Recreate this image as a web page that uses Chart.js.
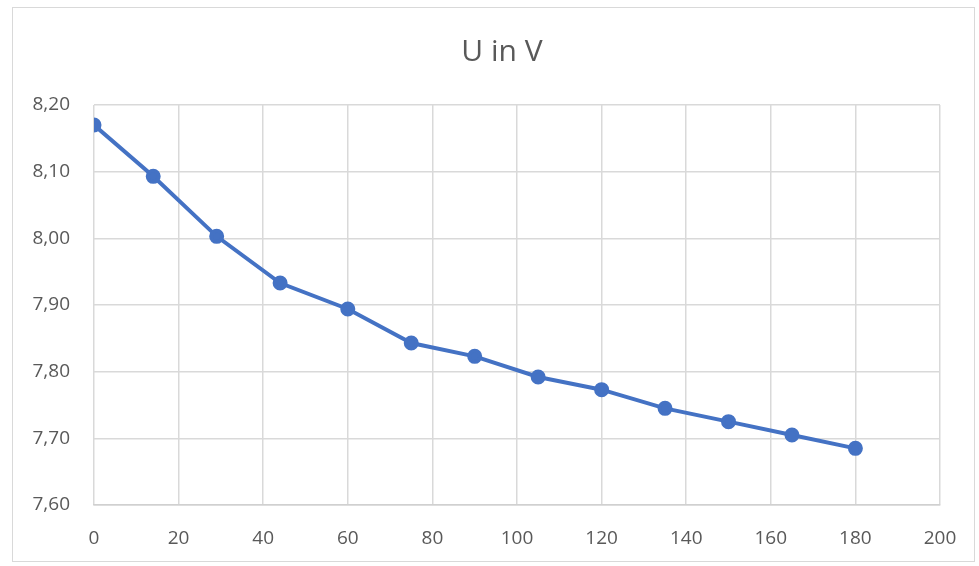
<!DOCTYPE html>
<html>
<head>
<meta charset="utf-8">
<script src="https://cdn.jsdelivr.net/npm/chart.js@4/dist/chart.umd.min.js"></script>
<style>
    html, body { margin: 0; padding: 0; background: #fff; }
    #wrap { position: relative; width: 979px; height: 566px; }
    #frame { position: absolute; left: 12px; top: 7px; width: 963px; height: 555px; border: 1px solid #d9d9d9; box-sizing: border-box; pointer-events: none; }
</style>
</head>
<body>
<div id="wrap">
    <canvas id="spannungChart" width="979" height="566"></canvas>
    <div id="frame"></div>
</div>
<script>
// Zeit (x) und Spannung U in V (y)
const zeit = [0, 14, 29, 44, 60, 75, 90, 105, 120, 135, 150, 165, 180];
const spannung = [8.17, 8.093, 8.003, 7.933, 7.894, 7.843, 7.823, 7.792, 7.773, 7.745, 7.725, 7.705, 7.685];
const xTicks = [0, 20, 40, 60, 80, 100, 120, 140, 160, 180, 200];
const yTicks = [7.6, 7.7, 7.8, 7.9, 8.0, 8.1, 8.2];
const titel = 'U in V';

const punkte = zeit.map((x, i) => ({ x: x, y: spannung[i] }));
const grau = '#595959';
const blau = '#4472c4';

// Titel selbst zeichnen, damit er wie im Original leicht rechts der Mitte sitzt
const titelPlugin = {
    id: 'titelPlugin',
    afterDraw(chart) {
        const c = chart.ctx;
        c.save();
        c.fillStyle = grau;
        c.font = '30px "Open Sans"';
        c.textAlign = 'center';
        c.textBaseline = 'alphabetic';
        c.fillText(titel, 502, 61);
        c.restore();
    }
};

const ctx1 = document.getElementById("spannungChart").getContext("2d");

new Chart(ctx1, {
    type: 'scatter',
    data: {
        datasets: [{
            label: titel,
            data: punkte,
            showLine: true,
            borderColor: blau,
            backgroundColor: blau,
            borderWidth: 4,
            pointRadius: 5.5,
            pointHoverRadius: 5.5,
            tension: 0
        }]
    },
    plugins: [titelPlugin],
    options: {
        responsive: false,
        animation: false,
        layout: { padding: { left: 12, right: 39, top: 105, bottom: 0 } },
        plugins: {
            legend: { display: false },
            tooltip: { enabled: false },
            title: { display: false }
        },
        scales: {
            x: {
                type: 'linear',
                min: xTicks[0],
                max: xTicks[xTicks.length - 1],
                afterBuildTicks: axis => { axis.ticks = xTicks.map(v => ({ value: v })); },
                afterFit: axis => { axis.height = 61; },
                grid: { color: '#d9d9d9', lineWidth: 1.5, drawTicks: false },
                border: { color: '#d0d0d0', width: 1.5 },
                ticks: {
                    color: grau,
                    padding: 22,
                    maxRotation: 0,
                    font: { family: 'Open Sans', size: 19 }
                }
            },
            y: {
                type: 'linear',
                min: yTicks[0],
                max: yTicks[yTicks.length - 1],
                afterBuildTicks: axis => { axis.ticks = yTicks.map(v => ({ value: v })); },
                afterFit: axis => { axis.width = 82; },
                grid: { color: '#d9d9d9', lineWidth: 1.5, drawTicks: false },
                border: { display: false },
                ticks: {
                    color: grau,
                    padding: 24,
                    font: { family: 'Open Sans', size: 19 },
                    callback: v => Number(v).toFixed(2).replace('.', ',')
                }
            }
        }
    }
});
</script>
</body>
</html>
